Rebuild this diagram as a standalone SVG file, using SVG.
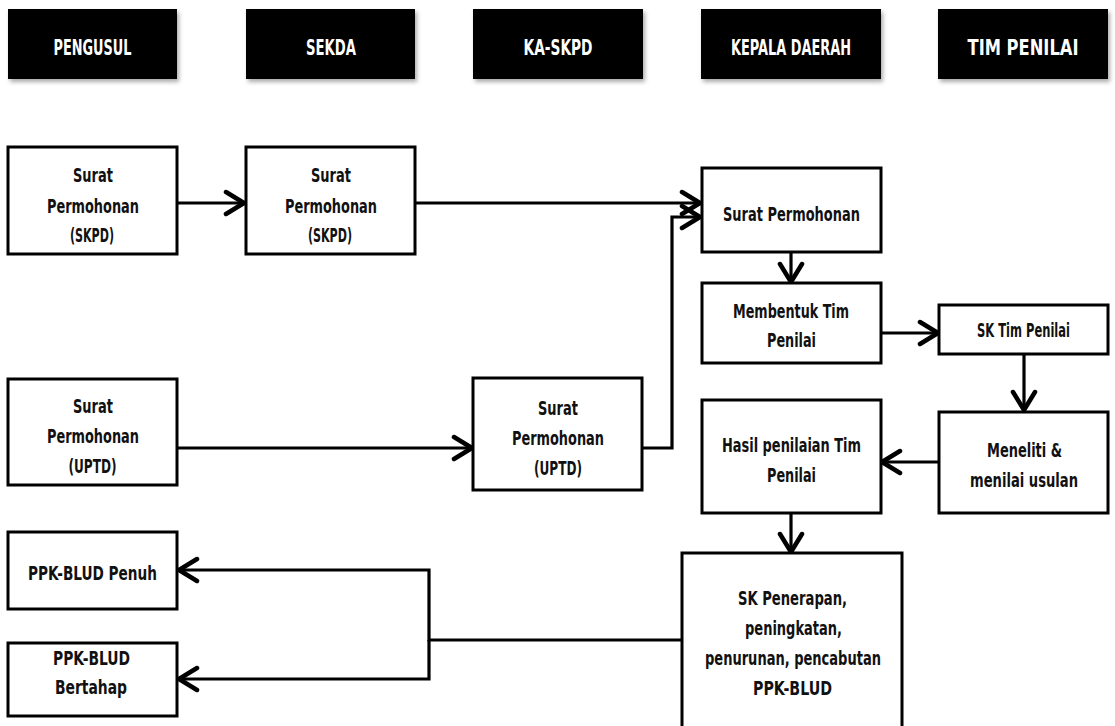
<svg xmlns="http://www.w3.org/2000/svg" width="1115" height="726" viewBox="0 0 1115 726">
<style>
.hdr{fill:#000;}
.ht{fill:#fff;font-family:"DejaVu Sans Condensed","DejaVu Sans",sans-serif;font-weight:bold;font-size:21px;text-anchor:middle;}
.box{fill:#fff;stroke:#000;stroke-width:3;}
.t{fill:#111;font-family:"DejaVu Sans Condensed","DejaVu Sans",sans-serif;font-weight:bold;font-size:20px;text-anchor:middle;}
.c{fill:none;stroke:#000;stroke-width:3.2;}
</style>
<defs>
<filter id="sh" x="-10%" y="-10%" width="125%" height="135%">
<feDropShadow dx="2" dy="3" stdDeviation="2" flood-color="#888" flood-opacity="0.7"/>
</filter>
<marker id="ah" markerUnits="userSpaceOnUse" markerWidth="30" markerHeight="32" refX="22" refY="14" orient="auto">
<path d="M3,3 L21,14 L3,25" fill="none" stroke="#000" stroke-width="4.5" stroke-linecap="round" stroke-linejoin="round"/>
</marker>
</defs>
<rect width="1115" height="726" fill="#fff"/>

<g id="headers">
<g id="h-pengusul"><rect class="hdr" filter="url(#sh)" x="8" y="9" width="169" height="70"/><text class="ht" x="92.5" y="55" textLength="78" lengthAdjust="spacingAndGlyphs">PENGUSUL</text></g>
<g id="h-sekda"><rect class="hdr" filter="url(#sh)" x="246" y="9" width="169" height="70"/><text class="ht" x="331" y="55" textLength="50" lengthAdjust="spacingAndGlyphs">SEKDA</text></g>
<g id="h-kaskpd"><rect class="hdr" filter="url(#sh)" x="473" y="9" width="170" height="70"/><text class="ht" x="558" y="55" textLength="69" lengthAdjust="spacingAndGlyphs">KA-SKPD</text></g>
<g id="h-kd"><rect class="hdr" filter="url(#sh)" x="701" y="9" width="180" height="70"/><text class="ht" x="791" y="55" textLength="120" lengthAdjust="spacingAndGlyphs">KEPALA DAERAH</text></g>
<g id="h-tim"><rect class="hdr" filter="url(#sh)" x="938" y="9" width="170" height="70"/><text class="ht" x="1023" y="55" textLength="111" lengthAdjust="spacingAndGlyphs">TIM PENILAI</text></g>
</g>

<g id="connectors">
<path class="c" d="M177,203 H245" marker-end="url(#ah)"/>
<path class="c" d="M415,203 H701" marker-end="url(#ah)"/>
<path class="c" d="M642,448 H672 V217 H701" marker-end="url(#ah)"/>
<path class="c" d="M177,448 H473" marker-end="url(#ah)"/>
<path class="c" d="M791,253 V283" marker-end="url(#ah)"/>
<path class="c" d="M881,333 H939" marker-end="url(#ah)"/>
<path class="c" d="M1024,354 V411" marker-end="url(#ah)"/>
<path class="c" d="M939,462 H881" marker-end="url(#ah)"/>
<path class="c" d="M791,513 V553" marker-end="url(#ah)"/>
<path class="c" d="M682,640 H429 V570 H178" marker-end="url(#ah)"/>
<path class="c" d="M429,640 V679 H178" marker-end="url(#ah)"/>
</g>

<g id="n-skpd1"><rect class="box" x="8" y="147" width="169" height="107"/>
<text class="t" x="93" y="182" textLength="40" lengthAdjust="spacingAndGlyphs">Surat</text>
<text class="t" x="93" y="213" textLength="92" lengthAdjust="spacingAndGlyphs">Permohonan</text>
<text class="t" x="92" y="242" textLength="44" lengthAdjust="spacingAndGlyphs">(SKPD)</text></g>

<g id="n-skpd2"><rect class="box" x="246" y="147" width="169" height="107"/>
<text class="t" x="331" y="182" textLength="40" lengthAdjust="spacingAndGlyphs">Surat</text>
<text class="t" x="331" y="213" textLength="92" lengthAdjust="spacingAndGlyphs">Permohonan</text>
<text class="t" x="330" y="242" textLength="44" lengthAdjust="spacingAndGlyphs">(SKPD)</text></g>

<g id="n-uptd1"><rect class="box" x="8" y="379" width="169" height="106"/>
<text class="t" x="93" y="413" textLength="40" lengthAdjust="spacingAndGlyphs">Surat</text>
<text class="t" x="93" y="443" textLength="92" lengthAdjust="spacingAndGlyphs">Permohonan</text>
<text class="t" x="92.5" y="473" textLength="48" lengthAdjust="spacingAndGlyphs">(UPTD)</text></g>

<g id="n-uptd2"><rect class="box" x="473" y="378" width="169" height="112"/>
<text class="t" x="558" y="415" textLength="40" lengthAdjust="spacingAndGlyphs">Surat</text>
<text class="t" x="558" y="445" textLength="92" lengthAdjust="spacingAndGlyphs">Permohonan</text>
<text class="t" x="558" y="475" textLength="48" lengthAdjust="spacingAndGlyphs">(UPTD)</text></g>

<g id="n-surat-kd"><rect class="box" x="702" y="168" width="179" height="84"/>
<text class="t" x="791.5" y="221" textLength="137" lengthAdjust="spacingAndGlyphs">Surat Permohonan</text></g>

<g id="n-membentuk"><rect class="box" x="702" y="283" width="179" height="80"/>
<text class="t" x="791" y="318" textLength="116" lengthAdjust="spacingAndGlyphs">Membentuk Tim</text>
<text class="t" x="791.5" y="347" textLength="49" lengthAdjust="spacingAndGlyphs">Penilai</text></g>

<g id="n-sktim"><rect class="box" x="939" y="305" width="169" height="49"/>
<text class="t" x="1023.5" y="337" textLength="93" lengthAdjust="spacingAndGlyphs" style="font-size:19px">SK Tim Penilai</text></g>

<g id="n-meneliti"><rect class="box" x="939" y="412" width="169" height="101"/>
<text class="t" x="1024.5" y="457" textLength="75" lengthAdjust="spacingAndGlyphs">Meneliti &amp;</text>
<text class="t" x="1024" y="487" textLength="108" lengthAdjust="spacingAndGlyphs">menilai usulan</text></g>

<g id="n-hasil"><rect class="box" x="702" y="400" width="179" height="113"/>
<text class="t" x="791.5" y="452" textLength="139" lengthAdjust="spacingAndGlyphs">Hasil penilaian Tim</text>
<text class="t" x="791.5" y="482" textLength="49" lengthAdjust="spacingAndGlyphs">Penilai</text></g>

<g id="n-skpenerapan"><rect class="box" x="682" y="553" width="220" height="185"/>
<text class="t" x="792.5" y="605" textLength="109" lengthAdjust="spacingAndGlyphs">SK Penerapan,</text>
<text class="t" x="793.5" y="635" textLength="97" lengthAdjust="spacingAndGlyphs">peningkatan,</text>
<text class="t" x="793" y="665" textLength="176" lengthAdjust="spacingAndGlyphs">penurunan, pencabutan</text>
<text class="t" x="792.5" y="695" textLength="79" lengthAdjust="spacingAndGlyphs">PPK-BLUD</text></g>

<g id="n-penuh"><rect class="box" x="8" y="532" width="169" height="77"/>
<text class="t" x="92.5" y="580" textLength="129" lengthAdjust="spacingAndGlyphs" style="font-weight:900">PPK-BLUD Penuh</text></g>

<g id="n-bertahap"><rect class="box" x="8" y="643" width="169" height="73"/>
<text class="t" x="91.5" y="665" textLength="77" lengthAdjust="spacingAndGlyphs" style="font-weight:900">PPK-BLUD</text>
<text class="t" x="91" y="694" textLength="72" lengthAdjust="spacingAndGlyphs" style="font-weight:900">Bertahap</text></g>
</svg>
